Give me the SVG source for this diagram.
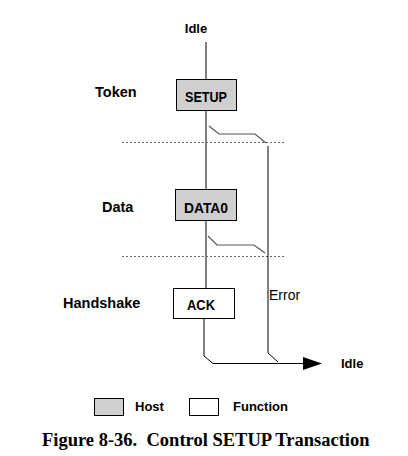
<svg xmlns="http://www.w3.org/2000/svg" width="408" height="456" viewBox="0 0 408 456">
<style>
.lbl{font-family:"Liberation Sans",Arial,sans-serif;font-weight:bold;fill:#000}
.big{font-size:14.5px}
.box{font-size:15px}
.sm{font-size:13px}
.err{font-family:"Liberation Sans",Arial,sans-serif;font-size:14px;fill:#000}
.cap{font-family:"Liberation Serif","Times New Roman",serif;font-weight:bold;font-size:18.5px;fill:#000;white-space:pre}
.host{fill:#cfcfcf;stroke:#000;stroke-width:1}
.func{fill:#fff;stroke:#000;stroke-width:1}
.ln{fill:none;stroke:#000;stroke-width:1}
.sw{fill:none;stroke:#555;stroke-width:1.2}
.dot{fill:none;stroke:#666;stroke-width:1;stroke-dasharray:2 2}
</style>
<rect width="408" height="456" fill="#fff"/>
<g id="labels">
<text class="lbl big" x="95" y="97">Token</text>
<text class="lbl big" x="102" y="212">Data</text>
<text class="lbl big" x="63" y="308">Handshake</text>
</g>
<g id="idle-top"><text class="lbl sm" x="196" y="33" text-anchor="middle">Idle</text></g>
<g id="setup"><rect class="host" x="176.5" y="79.5" width="60" height="31"/><text class="lbl box" x="185" y="102" textLength="42" lengthAdjust="spacingAndGlyphs">SETUP</text></g>
<g id="data0"><rect class="host" x="175.5" y="189.5" width="61" height="31"/><text class="lbl box" x="184" y="213" textLength="44" lengthAdjust="spacingAndGlyphs">DATA0</text></g>
<g id="ack"><rect class="func" x="173.5" y="288.5" width="61" height="30"/><text class="lbl box" x="187" y="310" textLength="28" lengthAdjust="spacingAndGlyphs">ACK</text></g>
<g id="idle-bottom"><text class="lbl sm" x="341" y="368">Idle</text></g>
<g id="error-label"><text class="err" x="269" y="300">Error</text></g>
<g id="connectors">
<path class="ln" d="M206,42V79.5M206,110.5V189.5M206,220.5V288.5"/>
<path class="dot" d="M122,142.5H284M122,256.5H284"/>
<path class="sw" d="M209,126L219,134H255L266,143"/>
<path class="sw" d="M208,236L217,245H254L265,253"/>
<path class="ln" d="M268,146V353L278,362"/>
<path class="ln" d="M204,318.5V356L213,363.5H305"/>
<polygon points="303,357 322,363.5 303,370" fill="#000"/>
</g>
<g id="legend">
<rect class="host" x="94.5" y="398.5" width="29" height="17"/>
<text class="lbl sm" x="135" y="411">Host</text>
<rect class="func" x="189.5" y="398.5" width="29" height="17"/>
<text class="lbl sm" x="233" y="411">Function</text>
</g>
<text class="cap" x="42" y="446">Figure 8-36.  Control SETUP Transaction</text>
</svg>
